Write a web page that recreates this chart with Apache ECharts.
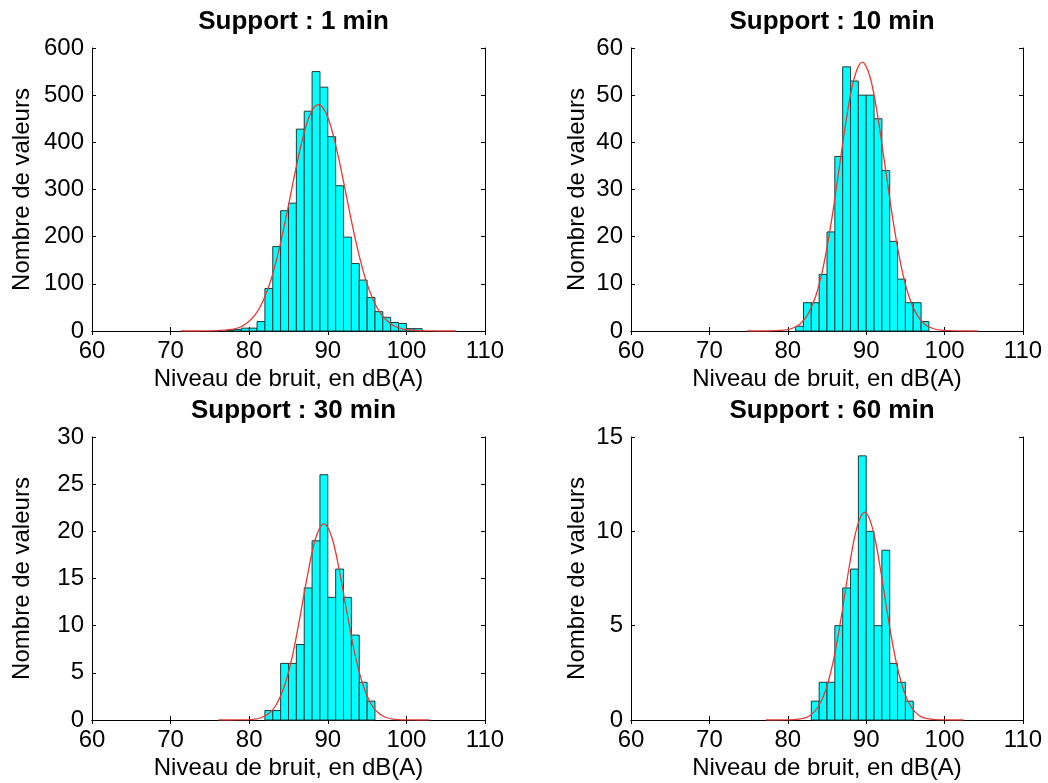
<!DOCTYPE html>
<html>
<head>
<meta charset="utf-8">
<script src="https://cdn.jsdelivr.net/npm/echarts@6/dist/echarts.min.js"></script>
<style>html,body{margin:0;padding:0;background:#fff}#c{width:1048px;height:783px}</style>
</head>
<body>
<div id="c"></div>
<script>
// ---- data ----
const titles = ['Support : 1 min', 'Support : 10 min', 'Support : 30 min', 'Support : 60 min'];
const xMin = 60, xMax = 110, xStep = 10;
const yMaxs = [600, 60, 30, 15];
const ySteps = [100, 10, 5, 5];
const binWidth = 1;

// histogram bins (left edges, dB(A)) and counts
const bins1 = [77,78,79,80,81,82,83,84,85,86,87,88,89,90,91,92,93,94,95,96,97,98,99,100,101];
const counts1 = [1,3,6,6,20,90,179,255,271,428,466,550,517,412,308,199,143,108,71,41,29,18,16,5,5];
const bins2 = [81,82,83,84,85,86,87,88,89,90,91,92,93,94,95,96,97];
const counts2 = [1,6,6,12,21,37,56,53,50,50,45,34,19,11,6,6,2];
const bins3 = [82,83,84,85,86,87,88,89,90,91,92,93,94,95];
const counts3 = [1,1,6,6,8,14,19,26,13,16,13,9,4,2];
const bins4 = [83,84,85,86,87,88,89,90,91,92,93,94,95];
const counts4 = [1,2,2,5,7,8,14,10,5,9,3,2,1];

// fitted (red) curves
const fitX1 = [71.3,73.8,75.8,77.8,78.8,79.8,80.8,81.8,82.8,83.8,84.8,85.8,86.8,87.8,88.8,89.8,90.8,91.8,92.8,93.8,94.8,95.8,96.8,97.8,98.8,99.8,101.8,103.8,106.3];
const fitY1 = [0,0.05,0.5,3.4,8,18,35,65,110,173,250,333,408,461,480,461,408,333,250,173,110,65,35,18,8,3.4,0.5,0.05,0];
const fitX2 = [74.8,77.5,79.5,80.5,81.5,82.5,83.5,84.5,85.5,86.5,87.5,88.5,89.5,90.5,91.5,92.5,93.5,94.5,95.5,96.5,97.5,98.5,99.5,101.5,104.2];
const fitY2 = [0,0.01,0.18,0.53,1.4,3.35,7.1,13.4,22.6,33.9,45.2,53.8,57,53.8,45.2,33.9,22.6,13.4,7.1,3.35,1.4,0.53,0.18,0.01,0];
const fitX3 = [76.1,78.5,80.5,81.5,82.5,83.5,84.5,85.5,86.5,87.5,88.5,89.5,90.5,91.5,92.5,93.5,94.5,95.5,96.5,97.5,98.5,100.5,102.9];
const fitY3 = [0,0.005,0.07,0.24,0.69,1.7,3.65,6.8,11.1,15.7,19.4,20.8,19.4,15.7,11.1,6.8,3.65,1.7,0.69,0.24,0.07,0.005,0];
const fitX4 = [77.2,79.8,81.8,82.8,83.8,84.8,85.8,86.8,87.8,88.8,89.8,90.8,91.8,92.8,93.8,94.8,95.8,96.8,97.8,99.8,102.4];
const fitY4 = [0,0.004,0.07,0.23,0.65,1.54,3.12,5.41,8.03,10.17,11.0,10.17,8.03,5.41,3.12,1.54,0.65,0.23,0.07,0.004,0];

// ---- layout ----
const FONT = "'Liberation Sans', Arial, sans-serif";
const grids = [
  {left: 92, top: 48, width: 393, height: 283},
  {left: 631, top: 48, width: 392, height: 283},
  {left: 92, top: 437, width: 393, height: 283},
  {left: 631, top: 437, width: 392, height: 283}
];
const yNameGaps = [58, 42, 58, 42];
const histBins = [bins1, bins2, bins3, bins4];
const histCounts = [counts1, counts2, counts3, counts4];
const fitXs = [fitX1, fitX2, fitX3, fitX4];
const fitYs = [fitY1, fitY2, fitY3, fitY4];

function renderBar(params, api) {
  const x0 = api.value(0), x1 = api.value(1), v = api.value(2);
  const p0 = api.coord([x0, 0]);
  const p1 = api.coord([x1, v]);
  return {
    type: 'rect',
    shape: {x: p0[0], y: p1[1], width: p1[0] - p0[0], height: p0[1] - p1[1]},
    style: {fill: '#00ffff', stroke: '#1e3a3a', lineWidth: 1}
  };
}

const option = {
  backgroundColor: '#ffffff',
  animation: false,
  title: [], grid: [], xAxis: [], yAxis: [], series: []
};

const axisLineStyle = {show: true, lineStyle: {color: '#000', width: 1}};
const tickStyle = {show: true, inside: true, length: 4, lineStyle: {color: '#000', width: 1}};

grids.forEach((g, i) => {
  option.grid.push(Object.assign({}, g, {containLabel: false}));
  option.title.push({
    text: titles[i],
    left: g.left + g.width / 2,
    top: g.top - 44,
    textAlign: 'center',
    textStyle: {fontFamily: FONT, fontSize: 26, fontWeight: 'bold', color: '#000'}
  });
  // bottom x axis
  option.xAxis.push({
    type: 'value', gridIndex: i, min: xMin, max: xMax, interval: xStep,
    position: 'bottom',
    name: 'Niveau de bruit, en dB(A)', nameLocation: 'middle', nameGap: 36,
    nameTextStyle: {fontFamily: FONT, fontSize: 24, color: '#000'},
    axisLine: axisLineStyle, axisTick: tickStyle,
    axisLabel: {fontFamily: FONT, fontSize: 24, color: '#000', margin: 8},
    splitLine: {show: false}
  });
  // top x axis (box)
  option.xAxis.push({
    type: 'value', gridIndex: i, min: xMin, max: xMax, interval: xStep,
    position: 'top',
    axisLine: axisLineStyle, axisTick: tickStyle,
    axisLabel: {show: false}, splitLine: {show: false}
  });
  // left y axis
  option.yAxis.push({
    type: 'value', gridIndex: i, min: 0, max: yMaxs[i], interval: ySteps[i],
    position: 'left',
    name: 'Nombre de valeurs', nameLocation: 'middle', nameGap: yNameGaps[i],
    nameTextStyle: {fontFamily: FONT, fontSize: 24, color: '#000'},
    axisLine: axisLineStyle, axisTick: tickStyle,
    axisLabel: {fontFamily: FONT, fontSize: 24, color: '#000', margin: 8},
    splitLine: {show: false}
  });
  // right y axis (box)
  option.yAxis.push({
    type: 'value', gridIndex: i, min: 0, max: yMaxs[i], interval: ySteps[i],
    position: 'right',
    axisLine: axisLineStyle, axisTick: tickStyle,
    axisLabel: {show: false}, splitLine: {show: false}
  });

  const barData = histBins[i].map((b, k) => [b, b + binWidth, histCounts[i][k]]);
  option.series.push({
    type: 'custom', xAxisIndex: 2 * i, yAxisIndex: 2 * i,
    renderItem: renderBar, data: barData,
    encode: {x: [0, 1], y: 2}, z: 2
  });
  const fitData = fitXs[i].map((x, k) => [x, fitYs[i][k]]);
  option.series.push({
    type: 'line', xAxisIndex: 2 * i, yAxisIndex: 2 * i,
    data: fitData, smooth: 0.35, symbol: 'none',
    lineStyle: {color: '#e53935', width: 1.3}, z: 3
  });
});

const chart = echarts.init(document.getElementById('c'), null, {renderer: 'canvas'});
chart.setOption(option);
</script>
</body>
</html>
